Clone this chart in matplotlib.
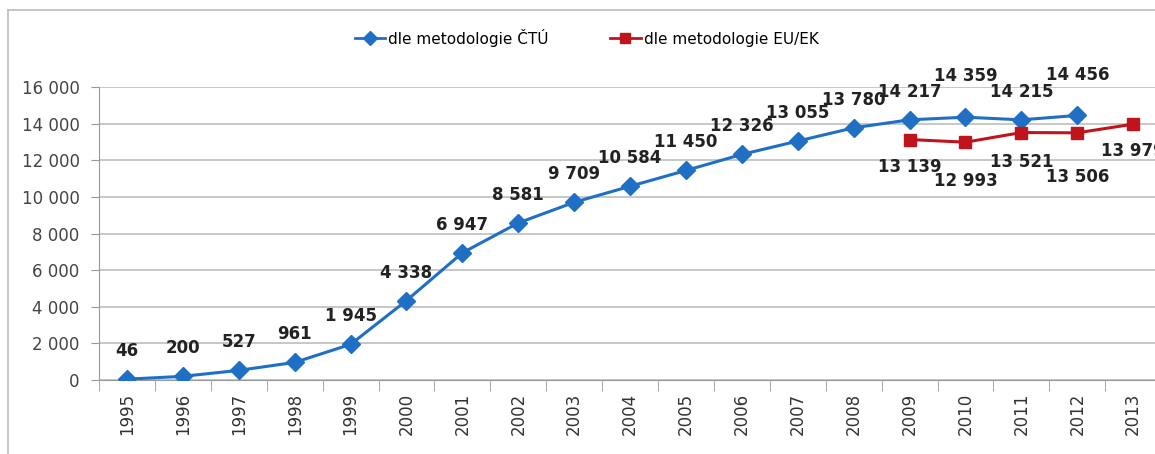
import matplotlib.pyplot as plt
from matplotlib.lines import Line2D
from matplotlib.ticker import FuncFormatter, MultipleLocator, FixedLocator

years = [str(y) for y in range(1995, 2014)]
ctu = [46, 200, 527, 961, 1945, 4338, 6947, 8581, 9709, 10584, 11450,
       12326, 13055, 13780, 14217, 14359, 14215, 14456]
eu_years = ['2009', '2010', '2011', '2012', '2013']
eu = [13139, 12993, 13521, 13506, 13979]

# label offsets (pixels) as Excel placed them
ctu_dy = [28] * 14 + [28, 41, 28, 40]
eu_dy = [-27, -39, -29, -44, -27]

plt.rcParams['font.family'] = ['DejaVu Sans']

BLUE = '#1f6fc5'
RED = '#c0141c'

fig = plt.figure(figsize=(11.55, 4.54), dpi=100)
ax = fig.add_axes([0.0857, 0.163, 0.9143, 0.645])

xi = list(range(len(years)))
ax.plot(xi[:len(ctu)], ctu, color=BLUE, lw=2.2, marker='D', ms=9, zorder=3)
ex = [years.index(y) for y in eu_years]
ax.plot(ex, eu, color=RED, lw=2.2, marker='s', ms=9, zorder=3)

for x, v, dy in zip(xi, ctu, ctu_dy):
    ax.annotate(f'{v:,}'.replace(',', ' '), (x, v), xytext=(0, dy),
                textcoords='offset pixels', ha='center', va='center',
                fontsize=12, fontweight='bold', color='#222222')
for x, v, dy in zip(ex, eu, eu_dy):
    ax.annotate(f'{v:,}'.replace(',', ' '), (x, v), xytext=(0, dy),
                textcoords='offset pixels', ha='center', va='center',
                fontsize=12, fontweight='bold', color='#222222')

ax.set_xlim(-0.5, 18.39)
ax.set_ylim(0, 16000)
ax.yaxis.set_major_locator(MultipleLocator(2000))
ax.yaxis.set_major_formatter(FuncFormatter(lambda v, p: f'{int(v):,}'.replace(',', ' ')))
ax.grid(axis='y', color='#bdbdbd', lw=1.2)
ax.set_axisbelow(True)

ax.set_xticks(xi)
ax.set_xticklabels(years, rotation=90, fontsize=12, color='#333333')
ax.xaxis.set_minor_locator(FixedLocator([i - 0.5 for i in range(len(years) + 1)]))
ax.tick_params(axis='x', which='major', length=0, pad=9)
ax.tick_params(axis='x', which='minor', length=8, color='#999999')
ax.tick_params(axis='y', length=6, color='#999999', labelsize=12, labelcolor='#444444', pad=8)

for s in ['top', 'right']:
    ax.spines[s].set_visible(False)
ax.spines['left'].set_color('#999999')
ax.spines['bottom'].set_color('#999999')

handles = [Line2D([], [], color=BLUE, lw=2, marker='D', ms=7),
           Line2D([], [], color=RED, lw=2, marker='s', ms=7)]
fig.legend(handles, ['dle metodologie ČTÚ', 'dle metodologie EU/EK'],
           loc='center', bbox_to_anchor=(0.508, 0.917), ncol=2, frameon=False,
           fontsize=11, handlelength=2.0, handletextpad=0.2, columnspacing=4)

# outer chart border
fig.add_artist(Line2D([0.007, 0.007], [0, 0.978], color='#bbbbbb', lw=1.2))
fig.add_artist(Line2D([0.007, 1.0], [0.978, 0.978], color='#bbbbbb', lw=1.2))

fig.savefig('out.png', dpi=100)
